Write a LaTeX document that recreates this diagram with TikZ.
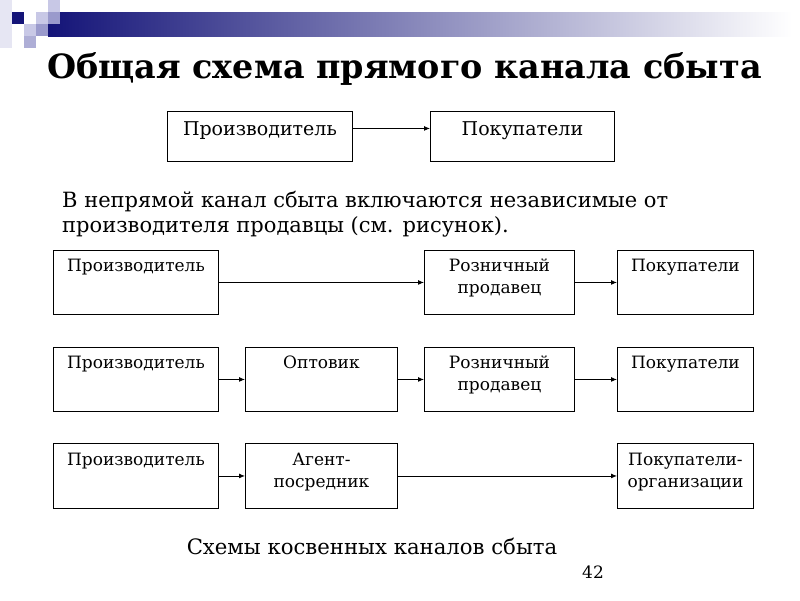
\documentclass[tikz,border=0pt]{standalone}
\usepackage{fontspec}
\setmainfont{DejaVu Serif}
\newfontfamily\titlefont{DejaVu Serif}
\newfontfamily\bodyfont{DejaVu Serif}
\usetikzlibrary{arrows.meta}
\definecolor{navy}{HTML}{141478}
\definecolor{midbar}{HTML}{7272B2}
\definecolor{lav}{HTML}{C8C8E6}
\definecolor{lavmid}{HTML}{9A9ACC}
\definecolor{lavpale}{HTML}{E6E6F3}
\tikzset{
  box/.style={draw, line width=0.9pt, inner sep=0pt, anchor=north west},
  boxtext/.style={anchor=north, inner sep=0pt, align=center, font=\fontsize{17}{22}\selectfont},
  toptext/.style={anchor=north, inner sep=0pt, align=center, font=\fontsize{19}{24}\selectfont},
  arr/.style={line width=0.9pt, -{Latex[length=6pt,width=5pt]}}
}
\begin{document}
\begin{tikzpicture}[x=1pt,y=-1pt]
\useasboundingbox (0,0) rectangle (800,600);
% decorative header
\fill[lavpale] (0,0) rectangle (12,48);
\shade[left color=navy, middle color=midbar, right color=white] (48,12) rectangle (792,36);
\fill[navy] (12,12) rectangle (24,24);
\fill[lav] (48,0) rectangle (60,12);
\fill[lav] (36,12) rectangle (48,24);
\fill[lavmid] (48,12) rectangle (60,24);
\fill[lav] (24,24) rectangle (36,36);
\fill[lavmid] (36,24) rectangle (48,36);
\fill[lavmid!80!white] (24,36) rectangle (36,48);
% title
\node[anchor=north west, inner sep=0pt, font=\titlefont\bfseries\fontsize{33.4}{36}\selectfont] (title) at (47,52) {Общая схема прямого канала сбыта};
% direct channel
\node[box, minimum width=185pt, minimum height=50pt] (tp1) at (167,111) {};
\node[box, minimum width=184pt, minimum height=50pt] (tp2) at (430,111) {};
\node[toptext] (tp1t) at ([yshift=-10pt]tp1.north) {Производитель};
\node[toptext] (tp2t) at ([yshift=-10pt]tp2.north) {Покупатели};
\draw[arr] ([yshift=8pt]tp1.east) -- ([yshift=8pt]tp2.west);
% paragraph
\node[anchor=north west, inner sep=0pt, align=left, font=\bodyfont\fontsize{21}{25}\selectfont] (para) at (62,191) {В непрямой канал сбыта включаются независимые от\\производителя продавцы (см. рисунок).};
% row 1
\node[box, minimum width=165pt, minimum height=64pt] (a1) at (53,250) {};
\node[box, minimum width=150pt, minimum height=64pt] (b1) at (424,250) {};
\node[box, minimum width=136pt, minimum height=64pt] (c1) at (617,250) {};
\node[boxtext] (a1t) at ([yshift=-9pt]a1.north) {Производитель};
\node[boxtext] (b1t) at ([yshift=-9pt]b1.north) {Розничный\\продавец};
\node[boxtext] (c1t) at ([yshift=-9pt]c1.north) {Покупатели};
\draw[arr] (a1.east) -- (b1.west);
\draw[arr] (b1.east) -- (c1.west);
% row 2
\node[box, minimum width=165pt, minimum height=64pt] (a2) at (53,347) {};
\node[box, minimum width=152pt, minimum height=64pt] (o2) at (245,347) {};
\node[box, minimum width=150pt, minimum height=64pt] (b2) at (424,347) {};
\node[box, minimum width=136pt, minimum height=64pt] (c2) at (617,347) {};
\node[boxtext] (a2t) at ([yshift=-9pt]a2.north) {Производитель};
\node[boxtext] (o2t) at ([yshift=-9pt]o2.north) {Оптовик};
\node[boxtext] (b2t) at ([yshift=-9pt]b2.north) {Розничный\\продавец};
\node[boxtext] (c2t) at ([yshift=-9pt]c2.north) {Покупатели};
\draw[arr] (a2.east) -- (o2.west);
\draw[arr] (o2.east) -- (b2.west);
\draw[arr] (b2.east) -- (c2.west);
% row 3
\node[box, minimum width=165pt, minimum height=65pt] (a3) at (53,443) {};
\node[box, minimum width=152pt, minimum height=65pt] (g3) at (245,443) {};
\node[box, minimum width=136pt, minimum height=65pt] (c3) at (617,443) {};
\node[boxtext] (a3t) at ([yshift=-10pt]a3.north) {Производитель};
\node[boxtext] (g3t) at ([yshift=-10pt]g3.north) {Агент-\\посредник};
\node[boxtext] (c3t) at ([yshift=-10pt]c3.north) {Покупатели-\\организации};
\draw[arr] (a3.east) -- (g3.west);
\draw[arr] (g3.east) -- (c3.west);
% caption
\node[inner sep=0pt, font=\bodyfont\fontsize{21.2}{24}\selectfont] (cap) at (372,546) {Схемы косвенных каналов сбыта};
\node[inner sep=0pt, font=\bodyfont\fontsize{17}{20}\selectfont] (num) at (593,572) {42};
\end{tikzpicture}
\end{document}
